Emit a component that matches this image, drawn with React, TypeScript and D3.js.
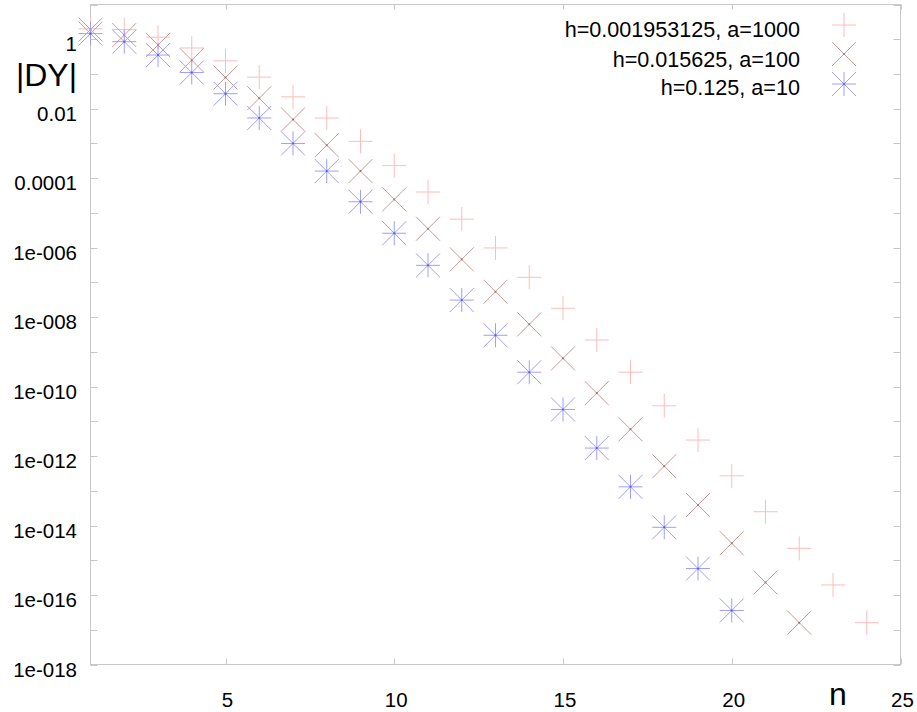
import React from "react";
import * as d3 from "d3";

const W = 917;
const H = 712;

const seriesLabels = ["h=0.001953125, a=1000", "h=0.015625, a=100", "h=0.125, a=10"];

const pinkN = d3.range(1, 25);
const pinkVals = [2.0, 1.9, 1.15, 0.56, 0.24, 0.081, 0.022, 5.4e-3, 1.15e-3, 2.3e-4, 4.0e-5, 6.6e-6, 9.8e-7, 1.4e-7, 1.8e-8, 2.2e-9, 2.6e-10, 2.8e-11, 2.9e-12, 2.7e-13, 2.5e-14, 2.2e-15, 1.95e-16, 1.6e-17];

const brownN = d3.range(1, 23);
const brownVals = [1.9, 1.32, 0.68, 0.25, 0.079, 0.020, 4.9e-3, 8.9e-4, 1.6e-4, 2.45e-5, 3.5e-6, 4.6e-7, 5.4e-8, 6.2e-9, 6.5e-10, 6.5e-11, 5.9e-12, 5.1e-13, 3.9e-14, 3.1e-15, 2.3e-16, 1.6e-17];

const blueN = d3.range(1, 21);
const blueVals = [1.45, 0.85, 0.35, 0.11, 0.027, 5.4e-3, 1.0e-3, 1.6e-4, 2.1e-5, 2.6e-6, 3.1e-7, 3.1e-8, 3.0e-9, 2.6e-10, 2.2e-11, 1.7e-12, 1.3e-13, 8.9e-15, 5.8e-16, 3.6e-17];

const xTicks = [5, 10, 15, 20, 25];
const yLabelExps = [0, -2, -4, -6, -8, -10, -12, -14, -16, -18];
const yLabels = ["1", "0.01", "0.0001", "1e-006", "1e-008", "1e-010", "1e-012", "1e-014", "1e-016", "1e-018"];

const left = 90.5, right = 900.5, top = 4.5, bottom = 664.5;
const x = d3.scaleLinear().domain([1, 25]).range([left, right]);
const y = d3.scaleLog().domain([1e-18, 10]).range([bottom, top]);

const R = 12;
const FONT = "'Liberation Sans', Arial, sans-serif";

type Kind = "plus" | "cross" | "star";
const styles: Record<Kind, { color: string; dot: string | null }> = {
  plus: { color: "#ffbcbc", dot: null },
  cross: { color: "#cc9a9a", dot: "#a86a6a" },
  star: { color: "#9e9eff", dot: "#5050ff" },
};

function Marker({ cx, cy, kind }: { cx: number; cy: number; kind: Kind }) {
  const s = styles[kind];
  const segs: [number, number, number, number][] = [];
  if (kind === "plus" || kind === "star") {
    segs.push([cx - R, cy, cx + R, cy]);
    segs.push([cx, cy - R, cx, cy + R]);
  }
  if (kind === "cross" || kind === "star") {
    segs.push([cx - R, cy - R, cx + R, cy + R]);
    segs.push([cx - R, cy + R, cx + R, cy - R]);
  }
  return (
    <g>
      {segs.map((sg, i) => (
        <line key={i} x1={sg[0]} y1={sg[1]} x2={sg[2]} y2={sg[3]} stroke={s.color} strokeWidth={1} />
      ))}
      {s.dot && <circle cx={cx} cy={cy} r={1} fill={s.dot} />}
    </g>
  );
}

export default function App() {
  const grey = "#c8c8c8";
  const allExps = d3.range(-18, 2);
  const series: { n: number[]; v: number[]; kind: Kind }[] = [
    { n: pinkN, v: pinkVals, kind: "plus" },
    { n: brownN, v: brownVals, kind: "cross" },
    { n: blueN, v: blueVals, kind: "star" },
  ];
  const legendY = [25, 54, 84];
  const legendBase = [37, 66.5, 95];
  const legendKinds: Kind[] = ["plus", "cross", "star"];
  return (
    <svg width={W} height={H} style={{ position: "absolute", left: 0, top: 0, background: "#fff" }} fontFamily={FONT}>
      <rect x={0} y={0} width={W} height={H} fill="#fff" />
      {/* frame */}
      <rect x={left} y={top} width={right - left} height={bottom - top} fill="none" stroke={grey} strokeWidth={1} />
      {/* y ticks */}
      {allExps.map((e) => {
        const yy = Math.round(y(Math.pow(10, e))) + 0.5;
        return (
          <g key={e}>
            <line x1={left} x2={left + 7} y1={yy} y2={yy} stroke={grey} />
            <line x1={right} x2={right - 7} y1={yy} y2={yy} stroke={grey} />
          </g>
        );
      })}
      {/* x ticks */}
      {xTicks.map((t) => {
        const xx = Math.round(x(t)) + 0.5;
        return (
          <g key={t}>
            <line x1={xx} x2={xx} y1={bottom} y2={bottom - 6} stroke={grey} />
            <line x1={xx} x2={xx} y1={top} y2={top + 5} stroke={grey} />
            <text x={x(t) + 2} y={707} textAnchor="middle" fontSize={20.5} fill="#000">{t}</text>
          </g>
        );
      })}
      {yLabels.map((lab, i) => (
        <text key={lab} x={77} y={y(Math.pow(10, yLabelExps[i])) + 12} textAnchor="end" fontSize={20.5} fill="#000">{lab}</text>
      ))}
      <text x={77} y={86} textAnchor="end" fontSize={32} fill="#000">|DY|</text>
      <text x={838} y={705} textAnchor="middle" fontSize={32} fill="#000">n</text>
      {/* data */}
      {series.map((s, si) => (
        <g key={si}>
          {s.n.map((n, i) => (
            <Marker key={i} cx={x(n)} cy={y(s.v[i])} kind={s.kind} />
          ))}
        </g>
      ))}
      {/* legend */}
      {seriesLabels.map((lab, i) => (
        <g key={lab}>
          <text x={800} y={legendBase[i]} textAnchor="end" fontSize={21.6} fill="#000">{lab}</text>
          <Marker cx={844} cy={legendY[i]} kind={legendKinds[i]} />
        </g>
      ))}
    </svg>
  );
}
